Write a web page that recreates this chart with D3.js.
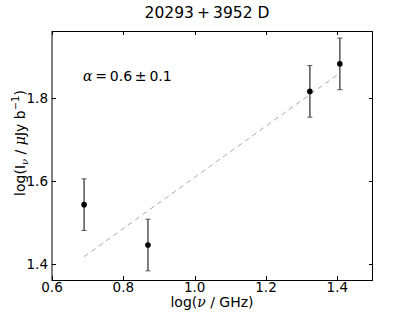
<!DOCTYPE html>
<html>
<head>
<meta charset="utf-8">
<script src="https://cdn.jsdelivr.net/npm/d3@7"></script>
<style>
  body { margin: 0; background: #fff; }
  svg { display: block; font-family: "DejaVu Sans", sans-serif; }
</style>
</head>
<body>
<svg id="chart" width="415" height="312"></svg>
<script>
// measured points: log frequency, log intensity, error
const logFreq = [0.690, 0.869, 1.323, 1.407];
const logFlux = [1.543, 1.446, 1.815, 1.881];
const fluxErr = [0.062, 0.062, 0.062, 0.062];

// fitted power law (dashed)
const fitX = [0.690, 1.407];
const fitY = [1.418, 1.859];

const xTicks = [0.6, 0.8, 1.0, 1.2, 1.4];
const yTicks = [1.4, 1.6, 1.8];

const titleText = "20293\u2009+\u20093952 D";

const svg = d3.select("#chart");
const plotLeft = 52, plotRight = 373, plotTop = 31, plotBottom = 280;

const x = d3.scaleLinear().domain([0.6, 1.5]).range([plotLeft, plotRight]);
const y = d3.scaleLinear().domain([1.362, 1.96]).range([plotBottom, plotTop]);

// ======== frame
svg.append("rect")
  .attr("x", plotLeft).attr("y", plotTop + 0.5)
  .attr("width", plotRight - plotLeft - 0.5).attr("height", plotBottom - plotTop)
  .attr("fill", "none")
  .attr("stroke", "#000")
  .attr("stroke-width", 1);

// ======== ticks (inside, all four sides)
const tickLen = 4;
const tickG = svg.append("g").attr("stroke", "#000").attr("stroke-width", 1);
xTicks.forEach(t => {
  const px = Math.round(x(t)) + 0.5;
  tickG.append("line").attr("x1", px).attr("x2", px).attr("y1", plotBottom).attr("y2", plotBottom - tickLen);
  tickG.append("line").attr("x1", px).attr("x2", px).attr("y1", plotTop).attr("y2", plotTop + tickLen);
});
yTicks.forEach(t => {
  const py = Math.round(y(t)) + 0.5;
  tickG.append("line").attr("x1", plotLeft).attr("x2", plotLeft + tickLen).attr("y1", py).attr("y2", py);
  tickG.append("line").attr("x1", plotRight).attr("x2", plotRight - tickLen).attr("y1", py).attr("y2", py);
});

svg.append("g")
  .selectAll("text")
  .data(xTicks)
  .join("text")
  .attr("x", d => x(d))
  .attr("y", 292)
  .attr("text-anchor", "middle")
  .attr("font-size", 13.5)
  .text(d => d3.format(".1f")(d));

svg.append("g")
  .selectAll("text")
  .data(yTicks)
  .join("text")
  .attr("x", 48)
  .attr("y", d => y(d) + 5)
  .attr("text-anchor", "end")
  .attr("font-size", 13.5)
  .text(d => d3.format(".1f")(d));

// ======== fit line
svg.append("line")
  .attr("x1", x(fitX[0])).attr("y1", y(fitY[0]))
  .attr("x2", x(fitX[1])).attr("y2", y(fitY[1]))
  .attr("stroke", "#aaa")
  .attr("stroke-width", 1)
  .attr("stroke-dasharray", "5,4");

// ======== error bars and points
const pts = logFreq.map((f, i) => ({ f, v: logFlux[i], e: fluxErr[i] }));
const eb = svg.append("g").attr("stroke", "#555").attr("stroke-width", 1.5);
pts.forEach(d => {
  const px = x(d.f);
  eb.append("line").attr("x1", px).attr("x2", px).attr("y1", y(d.v - d.e)).attr("y2", y(d.v + d.e));
  [d.v - d.e, d.v + d.e].forEach(c => {
    eb.append("line").attr("x1", px - 2.5).attr("x2", px + 2.5)
      .attr("y1", y(c)).attr("y2", y(c)).attr("stroke-width", 1);
  });
});
svg.append("g")
  .selectAll("circle")
  .data(pts)
  .join("circle")
  .attr("cx", d => x(d.f))
  .attr("cy", d => y(d.v))
  .attr("r", 2.8)
  .attr("fill", "#000");

// ======== texts
svg.append("text")
  .attr("x", 207).attr("y", 18)
  .attr("text-anchor", "middle")
  .attr("font-size", 15.5)
  .text(titleText);

const alpha = svg.append("text")
  .attr("x", 83).attr("y", 81)
  .attr("font-size", 14);
alpha.append("tspan").attr("font-family", "DejaVu Serif").attr("font-style", "italic").text("\u03b1");
alpha.append("tspan").text("\u2009=\u20090.6\u2009\u00b1\u20090.1");

svg.append("text")
  .attr("x", 212).attr("y", 307)
  .attr("text-anchor", "middle")
  .attr("font-size", 14)
  .html('log(<tspan font-family="DejaVu Serif" font-style="italic">\u03bd</tspan> / GHz)');

const yl = svg.append("text")
  .attr("transform", "translate(25,143) rotate(-90)")
  .attr("text-anchor", "middle")
  .attr("font-size", 14);
yl.append("tspan").text("log(I");
yl.append("tspan").attr("font-size", 10).attr("dy", 3)
  .attr("font-family", "DejaVu Serif").attr("font-style", "italic").text("\u03bd");
yl.append("tspan").attr("dy", -3).text(" / ");
yl.append("tspan").attr("font-family", "DejaVu Serif").attr("font-style", "italic").text("\u03bc");
yl.append("tspan").text("Jy b");
yl.append("tspan").attr("font-size", 10).attr("dy", -6).text("\u22121");
yl.append("tspan").attr("dy", 6).text(")");
</script>
</body>
</html>
